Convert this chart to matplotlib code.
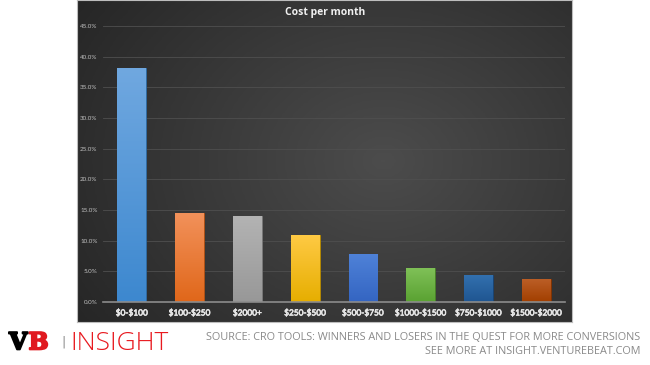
import matplotlib
matplotlib.use("Agg")
import matplotlib.pyplot as plt
import matplotlib.patheffects as pe
import numpy as np
from matplotlib.colors import LinearSegmentedColormap, to_rgb

categories = ["$0-$100", "$100-$250", "$2000+", "$250-$500", "$500-$750",
              "$1000-$1500", "$750-$1000", "$1500-$2000"]
shares = [38.2, 14.5, 14.0, 11.0, 7.9, 5.6, 4.4, 3.7]
yticks = [0, 5, 10, 15, 20, 25, 30, 35, 40, 45]
title = "Cost per month"

# top / bottom colour of each bar gradient
top_colors = ["#70a8e0", "#f2915a", "#b3b3b3", "#ffca45", "#4f82d8", "#80c158", "#3270ae", "#bb5e26"]
bot_colors = ["#3d88cf", "#e0671a", "#989898", "#e6ae00", "#3465c2", "#5aa232", "#1f5591", "#a23f00"]

fig = plt.figure(figsize=(6.5, 3.65), dpi=100)
fig.patch.set_facecolor("white")

# dark panel with soft gradient
bg = fig.add_axes([0.119, 0.118, 0.761, 0.882])
yy, xx = np.mgrid[0:1:200j, 0:1:300j]
d = np.sqrt(((xx - 0.62) / 0.75) ** 2 + ((yy - 0.5) / 0.9) ** 2)
shade = np.clip(1 - d, 0, 1)
bgcmap = LinearSegmentedColormap.from_list("bg", ["#262626", "#4c4c4c"])
bg.imshow(shade, cmap=bgcmap, aspect="auto", extent=[0, 1, 0, 1], origin="lower")
bg.set_xticks([])
bg.set_yticks([])
for s in bg.spines.values():
    s.set_color("#bdbdbd")
    s.set_linewidth(0.8)

ax = fig.add_axes([0.1585, 0.1726, 0.711, 0.7562])
ax.patch.set_alpha(0)
x = np.arange(len(categories))
bars = ax.bar(x, shares, width=0.5, color=bot_colors, zorder=3)
for b, c1, c2 in zip(bars, top_colors, bot_colors):
    b.set_edgecolor(tuple(v * 0.8 for v in to_rgb(c2)))
    b.set_linewidth(0.6)
    cm = LinearSegmentedColormap.from_list("g", [c2, c1])
    grad = np.linspace(0, 1, 100).reshape(-1, 1)
    im = ax.imshow(grad, cmap=cm, aspect="auto", origin="lower",
                   extent=[b.get_x(), b.get_x() + b.get_width(), 0, b.get_height()], zorder=4)
    im.set_clip_path(b)

ax.set_xlim(-0.5, len(categories) - 0.5)
ax.set_ylim(0, 45)
ax.set_yticks(yticks)
ax.set_yticklabels([f"{v:.1f}%" for v in yticks], fontsize=4.5, color="#bfbfbf", family="Lato")
ax.set_xticks(x)
ax.set_xticklabels([c.replace("$", r"\$") for c in categories], fontsize=6,
                   color="#e6e6e6", family="Lato")
for t in ax.get_xticklabels():
    t.set_path_effects([pe.withStroke(linewidth=0.45, foreground="#e6e6e6")])
ax.tick_params(length=0, pad=4)
ax.tick_params(axis="x", pad=5)
ax.grid(axis="y", color="#4f4f4f", linewidth=0.6, zorder=1)
for s in ["top", "right", "left"]:
    ax.spines[s].set_visible(False)
ax.spines["bottom"].set_color("#8c8c8c")
ax.spines["bottom"].set_linewidth(1.2)
ax.spines["bottom"].set_zorder(5)

fig.text(0.5, 0.965, title, ha="center", va="center", fontsize=7.5, color="#f0f0f0",
         fontweight="bold", family="Open Sans")

# footer
thick_k = [pe.withStroke(linewidth=1.4, foreground="black")]
thick_r = [pe.withStroke(linewidth=1.4, foreground="#e0191f")]
fig.text(0.014, 0.062, "V", fontsize=17, fontweight="bold", family="DejaVu Serif", color="black",
         va="center", ha="left", path_effects=thick_k)
fig.text(0.044, 0.062, "B", fontsize=17, fontweight="bold", family="DejaVu Serif", color="#e0191f",
         va="center", ha="left", path_effects=thick_r)
fig.text(0.094, 0.062, "|", fontsize=9, color="#888888", va="center", ha="left")
fig.text(0.108, 0.058, "INSIGHT", fontsize=19, fontweight="light", family="Open Sans", color="#e8191f",
         va="center", ha="left")
fig.text(0.985, 0.074, "SOURCE: CRO TOOLS: WINNERS AND LOSERS IN THE QUEST FOR MORE CONVERSIONS",
         fontsize=7.8, family="Open Sans", color="#8a8a8a", ha="right", va="center")
fig.text(0.985, 0.036, "SEE MORE AT INSIGHT.VENTUREBEAT.COM",
         fontsize=7.8, family="Open Sans", color="#8a8a8a", ha="right", va="center")

fig.savefig("out.png", dpi=100)
